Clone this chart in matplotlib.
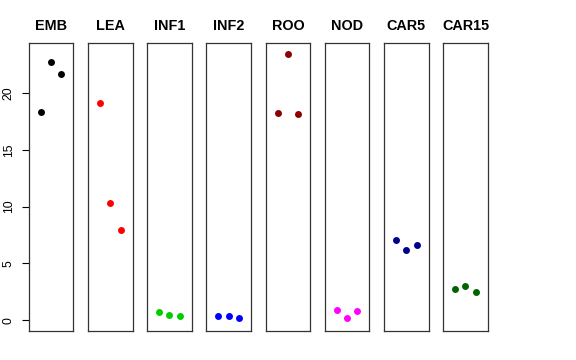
import matplotlib
matplotlib.use("Agg")
import matplotlib.pyplot as plt

plt.rcParams['font.family'] = ['Liberation Sans', 'DejaVu Sans']

tissues = ["EMB", "LEA", "INF1", "INF2", "ROO", "NOD", "CAR5", "CAR15"]
colors = ["#000000", "#FF0000", "#00CD00", "#0000FF", "#8B0000", "#FF00FF", "#00008B", "#006400"]
reps = [1, 2, 3]
values = [
    [18.3, 22.75, 21.66],
    [19.14, 10.32, 7.91],
    [0.70, 0.44, 0.35],
    [0.38, 0.38, 0.23],
    [18.2, 23.45, 18.12],
    [0.91, 0.18, 0.82],
    [7.06, 6.16, 6.6],
    [2.75, 3.02, 2.46],
]
yticks = [0, 5, 10, 15, 20]

fig = plt.figure(figsize=(5.76, 3.6), dpi=100)

left = 28.7 / 576
width = 44.7 / 576
step = 59.2 / 576
bottom = 1 - 331 / 360
height = (331 - 42.7) / 360

for i, name in enumerate(tissues):
    ax = fig.add_axes([left + i * step, bottom, width, height])
    ax.plot(reps, values[i], 'o', color=colors[i], markersize=5.0, markeredgewidth=0)
    ax.set_xlim(-0.16, 4.16)
    ax.set_ylim(-0.94, 24.42)
    ax.set_xticks([])
    ax.set_title(name, fontsize=10.4, fontweight='bold', pad=9)
    for s in ax.spines.values():
        s.set_linewidth(0.9)
        s.set_color('#333333')
    if i == 0:
        ax.set_yticks(yticks)
        ax.set_yticklabels([str(t) for t in yticks], rotation=90, va='center', fontsize=8.8)
        ax.tick_params(axis='y', length=5, width=0.8, pad=5)
    else:
        ax.set_yticks([])

fig.savefig("out.png", dpi=100)
